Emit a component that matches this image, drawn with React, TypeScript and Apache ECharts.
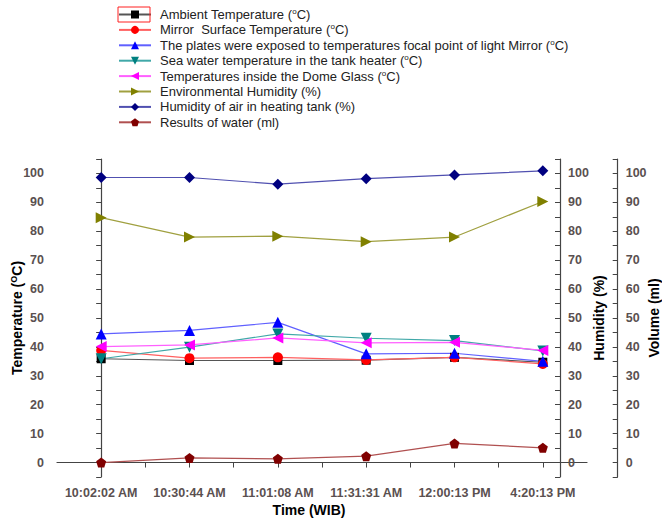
import React, { useEffect, useRef } from "react";
import * as echarts from "echarts";

const times = ["10:02:02 AM", "10:30:44 AM", "11:01:08 AM", "11:31:31 AM", "12:00:13 PM", "4:20:13 PM"];
const ambientTemp = [35.9, 35.3, 35.3, 35.4, 36.4, 34.7];
const mirrorTemp = [38.8, 36.1, 36.4, 35.5, 36.4, 34.1];
const plateTemp = [44.5, 45.7, 48.5, 37.6, 37.8, 35.0];
const seaWaterTemp = [35.9, 39.9, 44.5, 43.0, 42.2, 38.6];
const domeTemp = [40.1, 40.7, 43.1, 41.4, 41.6, 38.8];
const envHumidity = [84.7, 78.0, 78.3, 76.4, 78.0, 90.3];
const tankHumidity = [98.6, 98.6, 96.3, 98.2, 99.5, 100.9];
const waterResult = [0, 1.6, 1.3, 2.2, 6.6, 5.1];
const yTickLabels = [0, 10, 20, 30, 40, 50, 60, 70, 80, 90, 100];

const seriesNames = [
  "Ambient Temperature ({sup|o}C)",
  "Mirror  Surface Temperature ({sup|o}C)",
  "The plates were exposed to temperatures focal point of light Mirror ({sup|o}C)",
  "Sea water temperature in the tank heater ({sup|o}C)",
  "Temperatures inside the Dome Glass ({sup|o}C)",
  "Environmental Humidity (%)",
  "Humidity of air in heating tank (%)",
  "Results of water (ml)",
];

const FONT = "'Liberation Sans', Arial, sans-serif";
const pentagon = "path://M0,-10 L9.51,-3.09 L5.88,8.09 L-5.88,8.09 L-9.51,-3.09 Z";

function pts(values: number[]) {
  return values.map((v, i) => [i, v]);
}

export default function App() {
  const ref = useRef<HTMLDivElement>(null);
  useEffect(() => {
    if (!ref.current) return;
    const chart = echarts.init(ref.current, null, { renderer: "svg" });
    const labelStyle = { color: "#5a5050", fontSize: 12.5, fontWeight: "bold" as const, fontFamily: FONT };
    const yAxisBase = (pos: "left" | "right", offset: number, name: string, gap: number) => ({
      type: "value" as const,
      position: pos,
      offset,
      min: -5,
      max: 105,
      interval: 5,
      name,
      nameLocation: "middle" as const,
      nameRotate: 90,
      nameGap: gap,
      nameMoveOverlap: false,
      nameTextStyle: {
        color: "#000",
        fontSize: 14,
        fontWeight: "bold" as const,
        fontFamily: FONT,
        rich: { sup: { fontSize: 9, fontWeight: "bold", fontFamily: FONT, color: "#000", padding: [0, 0, 7, 0] } },
      },
      axisLine: { show: true, lineStyle: { color: "#444", width: 1.2 } },
      axisTick: { show: true, inside: pos === "right", length: 5, lineStyle: { color: "#444" } },
      axisLabel: {
        ...labelStyle,
        margin: pos === "left" ? 13 : 8,
        formatter: (v: number) => (yTickLabels.includes(v) ? String(v) : ""),
      },
      splitLine: { show: false },
    });
    const mk = (
      name: string,
      data: number[],
      yIdx: number,
      symbol: string,
      markerColor: string,
      lineColor: string,
      size: number,
      rotate = 0
    ) => ({
      type: "line" as const,
      name,
      yAxisIndex: yIdx,
      data: pts(data),
      symbol,
      symbolSize: size,
      symbolRotate: rotate,
      itemStyle: { color: markerColor },
      lineStyle: { color: lineColor, width: 1.2 },
      z: 3,
    });
    chart.setOption({
      animation: false,
      backgroundColor: "#fff",
      grid: { left: 57, right: 75, top: 159, bottom: 46, containLabel: false, outerBoundsMode: "none" },
      legend: {
        orient: "vertical",
        left: 118,
        top: 7,
        padding: 0,
        itemWidth: 32,
        itemHeight: 10,
        itemGap: 0.4,
        data: seriesNames,
        textStyle: {
          color: "#222",
          fontSize: 13,
          fontFamily: FONT,
          lineHeight: 15,
          padding: [0, 0, 0, 4],
          rich: { sup: { fontSize: 8, fontFamily: FONT, color: "#222", padding: [0, 0, 6, 0] } },
        },
      },
      graphic: [
        {
          type: "rect",
          shape: { x: 118, y: 7, width: 32, height: 15 },
          style: { fill: "none", stroke: "#ff2020", lineWidth: 1 },
          z: 10,
        },
      ],
      xAxis: {
        type: "value",
        min: -0.5,
        max: 5.5,
        interval: 0.5,
        name: "Time (WIB)",
        nameLocation: "middle",
        nameGap: 26,
        nameMoveOverlap: false,
        nameTextStyle: {
          color: "#000",
          fontSize: 14,
          fontWeight: "bold",
          fontFamily: FONT,
          padding: [0, 26, 0, 0],
        },
        axisLine: { show: true, lineStyle: { color: "#444", width: 1.2 } },
        axisTick: { show: true, length: 5, lineStyle: { color: "#444" } },
        axisLabel: {
          ...labelStyle,
          margin: 9,
          showMinLabel: false,
          showMaxLabel: false,
          formatter: (v: number) => (Number.isInteger(v) && v >= 0 && v < times.length ? times[v] : ""),
        },
        splitLine: { show: false },
      },
      yAxis: [
        yAxisBase("left", 0, "Temperature ({sup|O}C)", 32),
        yAxisBase("right", -27, "Humidity (%)", 32),
        yAxisBase("right", 30.7, "Volume (ml)", 29),
      ],
      series: [
        mk(seriesNames[0], ambientTemp, 0, "rect", "#000000", "#555555", 9),
        mk(seriesNames[1], mirrorTemp, 0, "circle", "#ff0000", "#ff6060", 10),
        mk(seriesNames[2], plateTemp, 0, "triangle", "#0000ff", "#6060ff", 11),
        mk(seriesNames[3], seaWaterTemp, 0, "triangle", "#008080", "#40a8a8", 11, 180),
        mk(seriesNames[4], domeTemp, 0, "triangle", "#ff00ff", "#ff60ff", 11, 90),
        mk(seriesNames[5], envHumidity, 1, "triangle", "#808000", "#a0a040", 11, -90),
        mk(seriesNames[6], tankHumidity, 1, "diamond", "#000080", "#5050b0", 11),
        mk(seriesNames[7], waterResult, 2, pentagon, "#800000", "#b05050", 10),
      ],
    });
    return () => chart.dispose();
  }, []);
  return <div ref={ref} style={{ width: 662, height: 523, position: "absolute", left: 0, top: 0 }} />;
}
